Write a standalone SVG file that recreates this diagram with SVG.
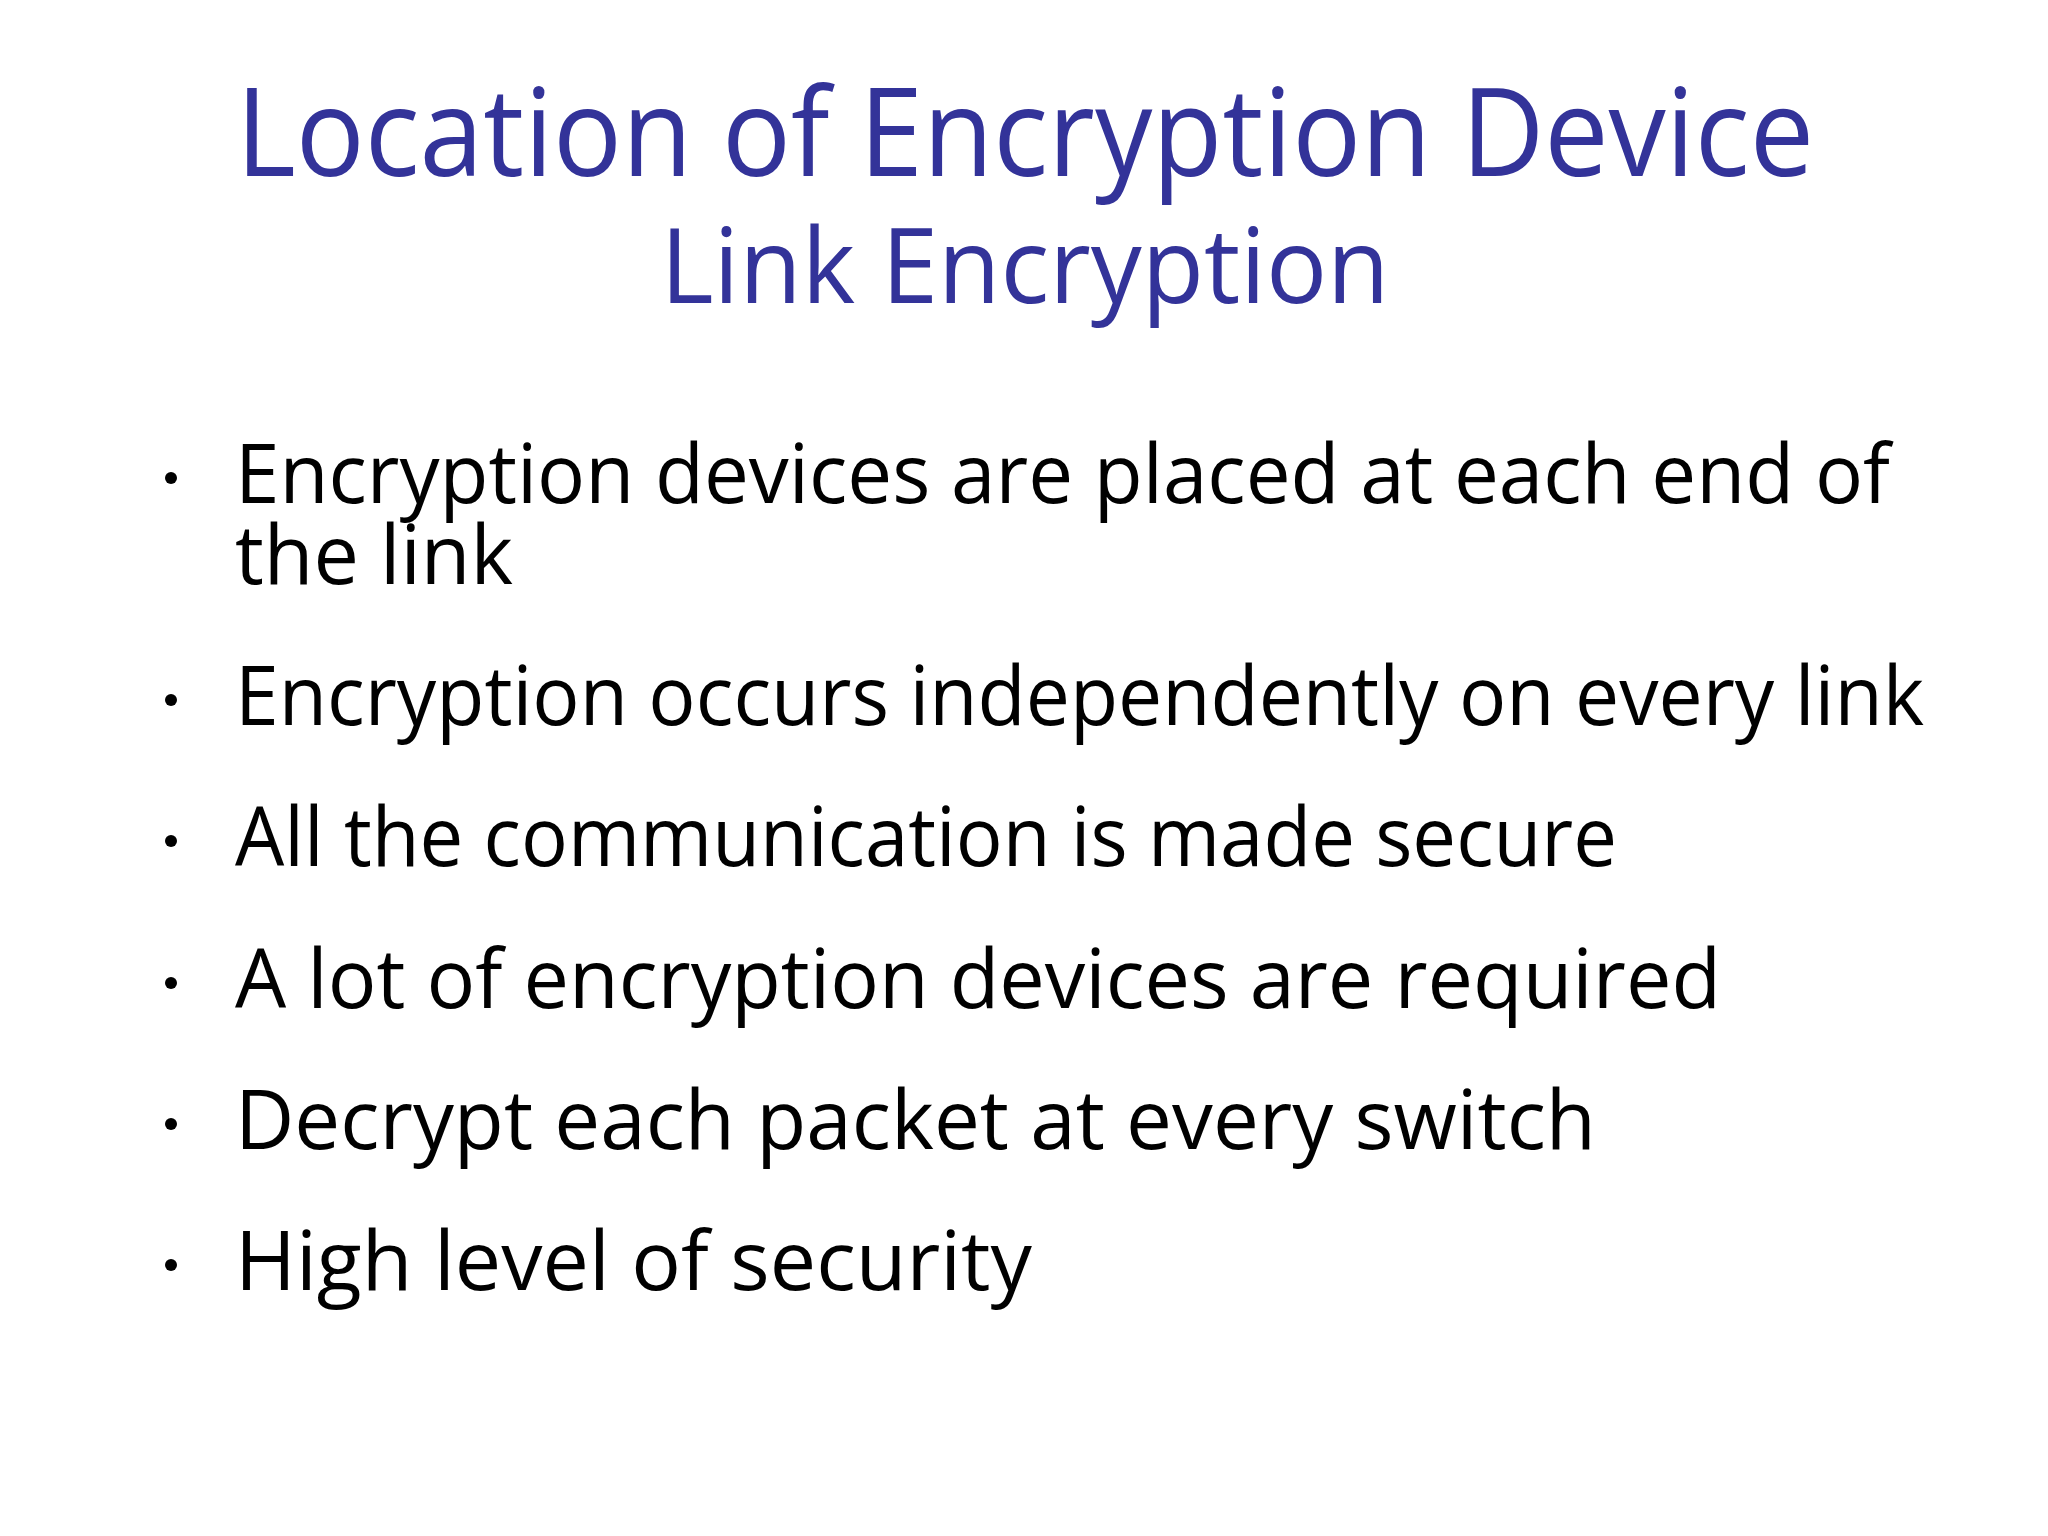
<svg xmlns="http://www.w3.org/2000/svg" width="2048" height="1536" viewBox="0 0 2048 1536">
<style>
.t{font-family:"Open Sans","Liberation Sans",sans-serif;fill:#333399;text-anchor:middle}
.b{font-family:"Open Sans","Liberation Sans",sans-serif;fill:#000;font-size:82px}
</style>
<rect width="2048" height="1536" fill="#fff"/>
<g id="title">
<text class="t" x="1025" y="176" font-size="122" textLength="1578" lengthAdjust="spacingAndGlyphs">Location of Encryption Device</text>
<text class="t" x="1025" y="303" font-size="104" textLength="729" lengthAdjust="spacingAndGlyphs">Link Encryption</text>
</g>
<g id="bullets">
<g fill="#000"><circle cx="171" cy="478" r="6"/><circle cx="171" cy="700" r="6"/><circle cx="171" cy="841" r="6"/><circle cx="171" cy="983" r="6"/><circle cx="171" cy="1124" r="6"/><circle cx="171" cy="1265" r="6"/></g>
<text class="b" x="235" y="503" textLength="1655" lengthAdjust="spacingAndGlyphs">Encryption devices are placed at each end of</text>
<text class="b" x="235" y="584" textLength="278" lengthAdjust="spacingAndGlyphs">the link</text>
<text class="b" x="235" y="725" textLength="1689" lengthAdjust="spacingAndGlyphs">Encryption occurs independently on every link</text>
<text class="b" x="235" y="866" textLength="1382" lengthAdjust="spacingAndGlyphs">All the communication is made secure</text>
<text class="b" x="235" y="1008" textLength="1486" lengthAdjust="spacingAndGlyphs">A lot of encryption devices are required</text>
<text class="b" x="235" y="1149" textLength="1361" lengthAdjust="spacingAndGlyphs">Decrypt each packet at every switch</text>
<text class="b" x="235" y="1290" textLength="797" lengthAdjust="spacingAndGlyphs">High level of security</text>
</g>
</svg>
